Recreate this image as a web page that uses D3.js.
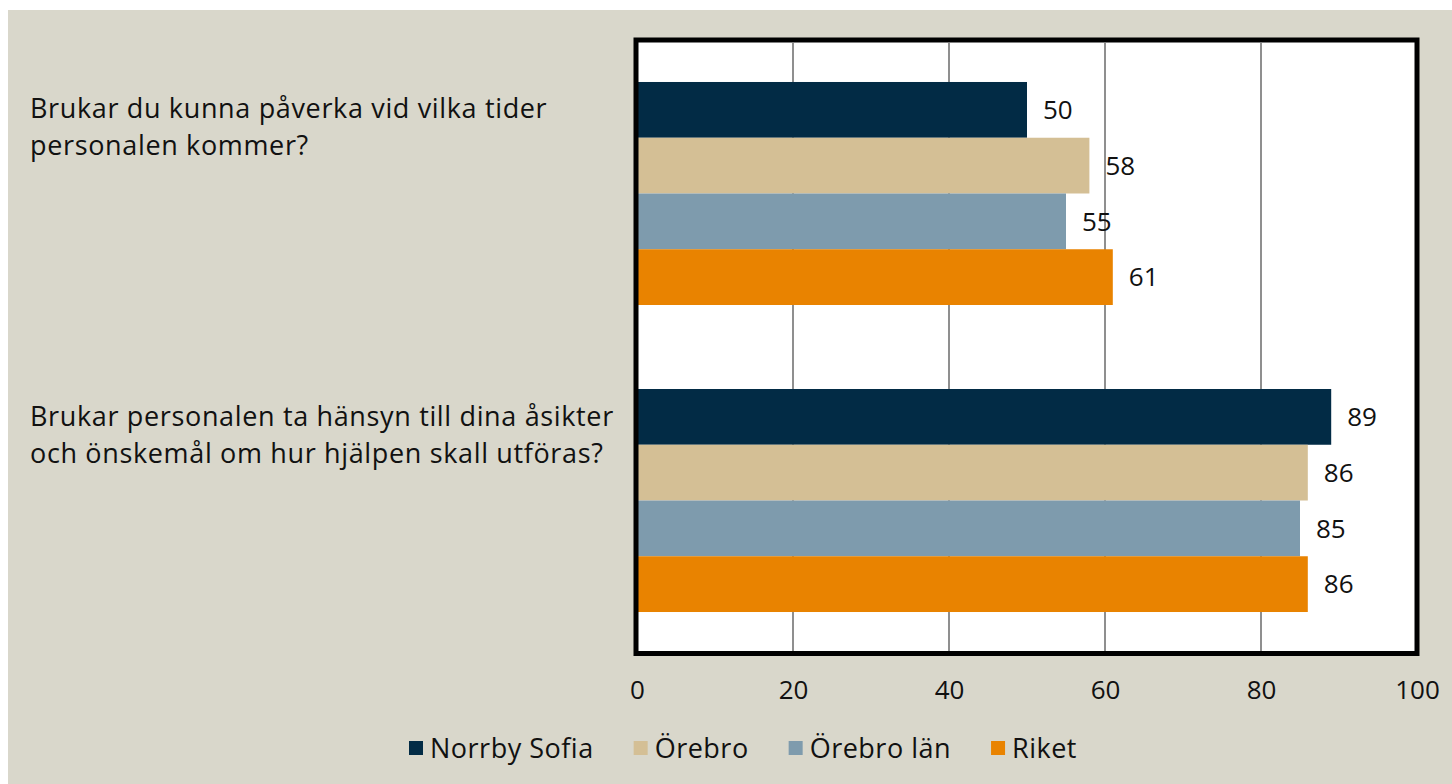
<!DOCTYPE html>
<html>
<head>
<meta charset="utf-8">
<script src="https://cdn.jsdelivr.net/npm/d3@7"></script>
<style>
  body { margin: 0; background: #fff; }
  text { font-family: "Open Sans", "DejaVu Sans", sans-serif; fill: #111; }
</style>
</head>
<body>
<div id="chart"></div>
<script>
// Data
const questions = [
    ["Brukar du kunna påverka vid vilka tider", "personalen kommer?"],
    ["Brukar personalen ta hänsyn till dina åsikter", "och önskemål om hur hjälpen skall utföras?"]
];
const seriesNames = ["Norrby Sofia", "Örebro", "Örebro län", "Riket"];
const norrbySofia = [50, 89];
const orebro = [58, 86];
const orebroLan = [55, 85];
const riket = [61, 86];
const xTicks = [0, 20, 40, 60, 80, 100];
const colors = ["#022b45", "#d4bf95", "#7e9bad", "#e98300"];

const width = 1452, height = 784;
const qKeys = questions.map(q => q.join(" "));
const seriesValues = [norrbySofia, orebro, orebroLan, riket];

// one row per bar
const rows = [];
qKeys.forEach((q, qi) => {
    seriesNames.forEach((s, si) => {
        rows.push({ q: q, s: s, value: seriesValues[si][qi], color: colors[si] });
    });
});

const svg = d3.select("#chart")
    .append("svg")
    .attr("width", width)
    .attr("height", height);

// beige background
svg.append("rect")
    .attr("x", 8).attr("y", 10)
    .attr("width", width - 8).attr("height", height - 10)
    .attr("fill", "#d9d7cb");

// plot area
const plotLeft = 637, plotRight = 1417, plotTop = 43, plotBottom = 651;

const x = d3.scaleLinear()
    .domain([0, 100])
    .range([plotLeft, plotRight]);

const y0 = d3.scaleBand()
    .domain(qKeys)
    .range([plotTop, plotBottom])
    .paddingInner(0.2736)
    .paddingOuter(0.127);

const y1 = d3.scaleBand()
    .domain(seriesNames)
    .range([0, y0.bandwidth()]);

svg.append("rect")
    .attr("x", plotLeft).attr("y", plotTop - 3)
    .attr("width", plotRight - plotLeft).attr("height", plotBottom - plotTop + 5)
    .attr("fill", "#fff");

// gridlines
svg.append("g")
    .selectAll("line")
    .data(xTicks.filter(t => t > 0 && t < 100)).enter()
    .append("line")
    .attr("x1", d => x(d)).attr("x2", d => x(d))
    .attr("y1", plotTop).attr("y2", plotBottom)
    .attr("stroke", "#8f8f8f")
    .attr("stroke-width", 2);

// bars
svg.append("g")
    .selectAll("rect")
    .data(rows).enter()
    .append("rect")
    .attr("x", x(0))
    .attr("y", d => y0(d.q) + y1(d.s))
    .attr("width", d => x(d.value) - x(0))
    .attr("height", y1.bandwidth())
    .attr("fill", d => d.color);

// value labels
svg.append("g")
    .selectAll("text")
    .data(rows).enter()
    .append("text")
    .attr("x", d => x(d.value) + 16)
    .attr("y", d => y0(d.q) + y1(d.s) + y1.bandwidth() / 2)
    .attr("dy", "0.36em")
    .style("font-size", "26px")
    .text(d => d.value);

// frame
svg.append("rect")
    .attr("x", plotLeft - 1).attr("y", plotTop - 3)
    .attr("width", plotRight - plotLeft + 1).attr("height", plotBottom - plotTop + 5.5)
    .attr("fill", "none")
    .attr("stroke", "#000")
    .attr("stroke-width", 5);

// x axis
const xAxis = svg.append("g")
    .attr("transform", "translate(0," + plotBottom + ")")
    .call(d3.axisBottom(x).tickValues(xTicks).tickSize(0).tickPadding(30));
xAxis.select(".domain").remove();
xAxis.selectAll("text")
    .style("font-size", "26px")
    .style("font-family", "\"Open Sans\", sans-serif")
    .attr("fill", "#111");

// category labels, one text per line
const cat = svg.append("g")
    .selectAll("g")
    .data(questions).enter()
    .append("g")
    .attr("transform", (d, i) => "translate(30," + (y0(qKeys[i]) + y0.bandwidth() / 2 - 75) + ")");
cat.selectAll("text")
    .data(d => d).enter()
    .append("text")
    .attr("y", (d, i) => i * 37)
    .style("font-size", "27px")
    .style("letter-spacing", "0.65px")
    .text(d => d);

// legend
const legend = svg.append("g");
const items = legend.selectAll("g")
    .data(seriesNames).enter()
    .append("g");
items.append("rect")
    .attr("width", 14).attr("height", 14)
    .attr("y", -7)
    .attr("fill", (d, i) => colors[i]);
items.append("text")
    .attr("x", 21)
    .attr("dy", "0.36em")
    .style("font-size", "27px")
    .style("letter-spacing", "0.5px")
    .text(d => d);

let pos = 0;
const offsets = [];
items.each(function () {
    offsets.push(pos);
    pos += 21 + this.querySelector("text").getComputedTextLength() + 40;
});
const legendWidth = pos - 40;
items.attr("transform", (d, i) => "translate(" + offsets[i] + ",0)");
legend.attr("transform", "translate(" + (743 - legendWidth / 2) + ",748)");
</script>
</body>
</html>
